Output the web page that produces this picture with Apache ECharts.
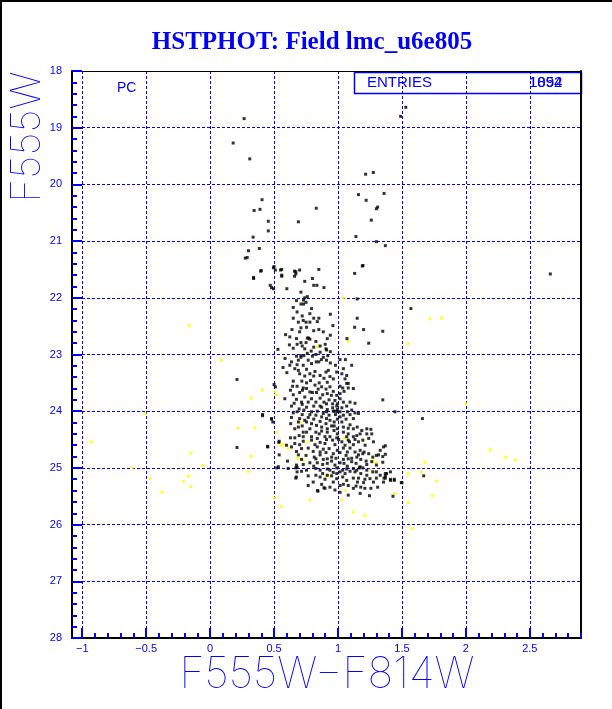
<!DOCTYPE html>
<html><head><meta charset="utf-8">
<script src="https://cdn.jsdelivr.net/npm/echarts@6/dist/echarts.min.js"></script>
<style>html,body{margin:0;padding:0;background:#fff}#c{width:612px;height:709px}</style>
</head><body><div id="c"></div>
<script>
const titleText = "HSTPHOT: Field lmc_u6e805";
const xTitle = "F555W\u2212F814W";
const yTitle = "F555W";
const xMajorTicks = [-1, -0.5, 0, 0.5, 1, 1.5, 2, 2.5];
const xRange = [-1.08, 2.9];
const yRange = [18, 28];
const entriesA = "1892";
const entriesB = "1054";

// [F555W-F814W, F555W] main photometry (black)
const blackPoints = [
[0.266,18.84],[0.18,19.27],[0.31,19.55],[1.216,19.82],[1.276,19.79],[0.406,20.27],[0.344,20.46],[0.39,20.44],[0.83,20.42],[1.16,20.18],[1.22,20.28],[1.36,20.16],[1.30,20.43],[1.31,20.40],[0.455,20.65],[0.69,20.66],[1.26,20.63],[0.455,20.82],[0.336,20.93],[1.14,20.92],[1.30,21.01],[1.37,21.08],[0.30,21.17],[0.385,21.13],[0.29,21.29],[0.40,21.52],[0.50,21.45],[0.51,21.51],[0.56,21.50],[0.56,21.60],[0.67,21.54],[0.70,21.51],[0.67,21.58],[0.85,21.50],[0.80,21.66],[1.195,21.43],[1.13,21.57],[0.34,21.64],[1.53,18.64],[1.49,18.80],[2.66,21.58],
[0.275,21.30],[0.395,21.53],[0.34,21.66],[0.495,21.47],[0.55,21.51],[0.56,21.62],[0.66,21.53],[0.66,21.62],[0.74,21.71],[0.47,21.78],[0.48,21.82],[0.495,21.84],[0.60,21.84],[0.81,21.78],[0.835,21.78],[0.89,21.82],[0.71,21.90],[1.19,21.44],
[0.76,21.98],[0.74,22.0],[0.675,22.05],[0.73,22.04],[1.15,22.02],[0.65,22.17],[0.73,22.11],[0.71,22.11],[0.68,22.25],[0.72,22.32],[0.65,22.36],[0.78,22.28],[0.78,22.43],[0.81,22.36],[0.85,22.36],[0.94,22.29],[1.15,22.36],[0.69,22.43],[0.75,22.43],[0.96,22.49],[0.71,22.53],[0.85,22.56],[0.81,22.58],[0.64,22.56],[1.20,22.56],[1.13,22.52],[1.57,22.19],[1.35,22.59],[0.59,22.65],[0.94,22.66],[0.76,22.71],[0.77,22.71],[0.78,22.73],[0.75,22.79],[0.71,22.79],[0.72,22.85],[0.62,22.83],[0.65,22.89],[0.68,22.82],[0.81,22.87],[0.86,22.85],[0.90,22.82],[0.94,22.95],[0.91,22.92],[0.79,22.94],[0.76,22.98],[0.71,23.02],[1.07,22.72],[1.24,22.80],[0.53,22.91],
[0.75,22.08],[0.793,22.19],[0.728,22.40],[0.838,22.42],[0.754,22.52],[0.885,22.60],[0.675,22.72],[0.827,22.77],[0.916,22.72],[0.74,22.90],[0.86,22.96],[0.906,22.90],[0.70,22.60],[0.623,22.69],
[0.675,23.03],[0.733,23.02],[0.827,23.0],[0.885,23.05],[0.92,23.02],[0.586,23.07],[0.69,23.10],[0.767,23.10],[0.83,23.13],[0.91,23.10],[0.623,23.19],[0.68,23.18],[0.728,23.19],[0.793,23.16],[0.85,23.13],[1.016,23.09],[1.058,23.09],[0.57,23.23],[0.662,23.25],[0.754,23.26],[0.82,23.30],[0.906,23.31],[0.924,23.28],[1.042,23.25],[1.107,23.19],[0.70,23.34],[0.78,23.34],[0.86,23.37],[0.937,23.39],[1.03,23.34],[0.65,23.47],[0.717,23.47],[0.754,23.50],[0.785,23.46],[0.853,23.50],[0.963,23.43],[1.055,23.43],[0.68,23.56],[0.728,23.59],[0.82,23.54],[0.872,23.57],[0.937,23.57],[1.016,23.56],[1.068,23.51],[1.08,23.59],[0.628,23.63],[0.722,23.63],[0.78,23.66],[0.832,23.67],[0.88,23.71],[0.916,23.69],[0.963,23.65],[0.99,23.72],[1.047,23.65],[0.584,23.78],[0.675,23.79],[0.74,23.75],[0.793,23.78],[0.86,23.77],[0.89,23.84],[0.93,23.80],[0.976,23.81],[1.016,23.78],[1.094,23.84],[1.133,23.86],[1.35,23.80],[0.636,23.91],[0.696,23.96],[0.754,23.93],[0.81,23.91],[0.872,23.93],[0.916,23.97],[0.958,23.94],[0.995,23.97],[1.068,23.91],[1.107,23.98],[0.50,23.53],[0.51,23.57],[0.21,23.44],
[0.636,23.13],[0.71,23.05],[0.80,23.03],[0.87,23.09],[0.94,23.15],[0.98,23.19],[0.60,23.32],[0.69,23.28],[0.74,23.38],[0.81,23.38],[0.89,23.42],[0.916,23.49],[0.99,23.31],[1.068,23.37],[1.08,23.51],[0.645,23.56],[0.70,23.67],[0.754,23.60],[0.80,23.67],[0.845,23.61],[0.906,23.61],[0.948,23.72],[1.016,23.69],[1.037,23.59],[0.65,23.71],[1.12,23.60],[0.657,23.86],[0.715,23.84],[0.767,23.84],[0.827,23.84],[0.91,23.87],[0.958,23.87],[0.995,23.87],[1.042,23.84],[0.86,23.91],[0.99,23.91],[0.976,24.00],[1.03,23.94],[0.72,23.88],
[0.68,24.01],[0.733,23.98],[0.793,24.01],[0.838,24.0],[0.91,24.01],[0.963,24.0],[0.995,24.01],[1.016,24.01],[1.073,24.01],[1.133,24.03],[1.16,24.04],[1.445,24.01],[0.41,24.08],[0.48,24.13],[0.49,24.19],[0.41,24.06],[0.48,24.14],
[0.65,24.03],[0.72,24.06],[0.78,24.06],[0.827,24.07],[0.885,24.04],[0.93,24.07],[0.98,24.06],[1.042,24.07],[1.094,24.06],[0.74,24.16],[0.86,24.18],[0.91,24.13],[0.97,24.19],[1.03,24.19],[0.69,24.19],[0.793,24.22],
[0.636,24.11],[0.70,24.13],[0.767,24.11],[0.81,24.14],[0.872,24.10],[0.937,24.16],[0.995,24.14],[1.016,24.10],[1.063,24.14],[1.12,24.13],[0.63,24.22],[0.69,24.28],[0.754,24.19],[0.832,24.25],[0.906,24.22],[0.95,24.26],[0.995,24.31],[1.08,24.30],[1.094,24.24],[1.15,24.28],[1.257,24.32],[1.264,24.40],[1.66,24.13],
[0.662,24.31],[0.72,24.26],[0.78,24.31],[0.872,24.28],[0.916,24.31],[0.97,24.26],[1.042,24.28],[1.12,24.31],[1.186,24.34],[0.728,24.37],[0.853,24.40],[0.995,24.40],[1.08,24.40],[1.173,24.40],[1.225,24.31],
[0.628,24.47],[0.696,24.43],[0.754,24.37],[0.827,24.37],[0.872,24.35],[0.916,24.37],[0.969,24.34],[1.042,24.37],[1.12,24.45],[1.147,24.43],[1.225,24.40],[0.537,24.55],[0.597,24.60],[0.662,24.57],[0.728,24.53],[0.793,24.51],[0.86,24.55],[0.91,24.50],[0.958,24.51],[1.005,24.50],[1.03,24.54],[1.08,24.51],[1.133,24.50],[1.16,24.54],
[0.662,24.47],[0.728,24.45],[0.793,24.45],[0.838,24.48],[0.898,24.45],[0.937,24.45],[0.99,24.47],[1.068,24.45],[1.09,24.54],[1.194,24.51],[1.24,24.48],[0.70,24.59],[0.82,24.59],[0.898,24.57],[0.976,24.59],[1.055,24.60],[1.12,24.59],[1.212,24.60],[1.277,24.54],
[0.45,24.63],[0.54,24.77],[0.636,24.63],[0.715,24.66],[0.767,24.65],[0.838,24.63],[0.885,24.67],[0.93,24.66],[0.995,24.69],[1.042,24.65],[1.094,24.65],[1.133,24.72],[1.173,24.69],[1.204,24.72],[0.69,24.77],[0.75,24.78],[0.814,24.81],[0.86,24.77],[0.916,24.84],[0.984,24.83],[1.016,24.73],[1.063,24.78],[1.107,24.83],[1.147,24.81],[1.194,24.75],[1.272,24.81],[1.317,24.77],[1.356,24.63],
[0.675,24.71],[0.806,24.71],[0.86,24.72],[0.906,24.73],[0.963,24.75],[1.073,24.72],[1.16,24.77],[1.24,24.75],[1.30,24.78],[0.827,24.84],[0.885,24.85],[0.95,24.81],[1.042,24.85],[1.08,24.84],[1.178,24.85],[1.22,24.88],[0.715,24.85],[1.33,24.69],
[0.605,24.88],[0.675,24.95],[0.78,24.91],[0.838,24.91],[0.88,24.94],[0.95,24.88],[1.016,24.91],[1.073,24.97],[1.141,24.92],[1.173,24.98],[1.264,24.89],[0.534,24.98],[0.67,25.0],[0.827,25.01],[0.86,25.04],[0.916,25.02],[0.99,25.0],[1.037,25.04],[1.12,25.01],[1.167,25.0],[1.194,25.0],[0.21,24.64],[1.37,24.61],[1.37,24.76],[1.35,24.80],[1.35,24.90],[0.45,24.62],[0.54,24.53],[0.52,25.0],[0.61,25.01],[0.68,24.99],
[0.728,24.94],[0.81,24.97],[0.916,24.92],[0.976,24.95],[1.047,24.92],[1.107,24.89],[1.225,24.94],[1.30,24.95],[0.754,25.04],[0.937,25.04],[1.068,25.02],[1.147,25.04],[1.225,25.04],[1.30,25.07],[1.38,25.10],
[0.68,25.07],[0.715,25.06],[0.88,25.10],[0.916,25.13],[0.963,25.08],[1.016,25.07],[1.055,25.10],[1.094,25.06],[1.133,25.07],[1.178,25.10],[1.225,25.13],[1.272,25.07],[1.33,25.13],[1.36,25.18],[1.41,25.22],[1.44,25.22],[1.50,25.26],[0.67,25.18],[0.86,25.16],[0.898,25.20],[0.99,25.19],[1.068,25.22],[1.12,25.18],[1.152,25.25],[1.20,25.26],[1.25,25.19],[1.30,25.18],
[0.767,25.14],[0.827,25.13],[0.95,25.14],[1.037,25.16],[1.16,25.18],[1.21,25.20],[1.277,25.25],[1.356,25.25],[0.806,25.25],[0.963,25.25],[1.042,25.29],[1.12,25.36],[1.21,25.36],[0.976,25.39],[1.173,25.45],
[0.767,25.31],[0.872,25.29],[0.937,25.34],[1.016,25.31],[1.08,25.31],[1.141,25.32],[1.178,25.34],[1.257,25.36],[1.31,25.34],[0.843,25.41],[0.898,25.36],[1.016,25.43],[1.08,25.48],[1.246,25.49],[1.41,25.07],[1.37,25.10],[1.37,25.14],[1.37,25.18],[1.41,25.20],[1.44,25.20],[1.495,25.26],[1.67,25.14],[1.43,25.50],[0.674,25.16],[0.84,25.40],[0.89,25.35],[0.99,25.10]
];

// [F555W-F814W, F555W] flagged photometry (yellow)
const yellowPoints = [
[-0.93,24.54],[-0.61,25.00],[-0.51,24.04],[-0.47,25.19],[-0.375,25.43],[-0.21,25.24],[-0.17,25.15],[-0.164,22.49],[-0.15,24.74],[-0.15,25.33],[-0.055,24.96],[0.088,23.10],[0.22,24.30],[0.30,25.06],[0.32,23.77],[0.32,24.80],[0.35,24.29],[0.41,23.63],[0.51,23.66],[0.52,23.72],[0.52,24.37],[0.505,25.53],[0.55,24.60],[0.57,24.59],[0.555,25.68],[0.61,24.66],[0.68,24.83],[0.705,24.20],[0.73,24.87],[0.76,24.54],[0.78,25.56],[0.84,22.86],[0.91,25.15],[0.92,25.13],[1.04,22.0],[1.03,25.56],[1.055,25.40],[1.05,24.48],[1.08,22.77],[1.12,25.78],[1.195,24.52],[1.21,25.84],[1.26,25.04],[1.27,24.87],[1.30,24.91],[1.445,25.45],[1.55,22.81],[1.55,25.10],[1.55,25.61],[1.58,26.07],[1.65,25.07],[1.68,24.90],[1.72,22.37],[1.74,25.49],[1.77,25.23],[1.81,22.36],[2.0,23.87],[2.19,24.68],[2.31,24.81],[2.385,24.86]
];

const BLUE = '#0000ff';
const minorX = [];
for (let v = -10; v <= 29; v++) minorX.push(+(v / 10).toFixed(1));

const chart = echarts.init(document.getElementById('c'), null, {renderer: 'canvas'});
const labelFont = {color: BLUE, fontSize: 11, fontFamily: 'Liberation Sans, Arial, sans-serif'};
chart.setOption({
  animation: false,
  backgroundColor: '#fff',
  grid: {left: 72, top: 71, width: 509, height: 567, show: false},
  xAxis: [
    {type: 'value', min: xRange[0], max: xRange[1], position: 'bottom', gridIndex: 0,
     axisLine: {show: true, onZero: false, lineStyle: {color: '#000', width: 2}},
     axisTick: {show: true, inside: true, length: 10, customValues: xMajorTicks, lineStyle: {color: BLUE, width: 2}},
     axisLabel: {show: true, customValues: xMajorTicks, margin: 5, ...labelFont,
       formatter: v => String(v).replace('-', '\u2212')},
     splitLine: {show: true, lineStyle: {color: BLUE, width: 1, type: [3, 2]}}},
    {type: 'value', min: xRange[0], max: xRange[1], position: 'bottom', gridIndex: 0,
     axisLine: {show: false},
     axisTick: {show: true, inside: true, length: 5, customValues: minorX, lineStyle: {color: BLUE, width: 2}},
     axisLabel: {show: false}, splitLine: {show: false}},
    {type: 'value', min: xRange[0], max: xRange[1], position: 'top', gridIndex: 0,
     axisLine: {show: true, onZero: false, lineStyle: {color: '#000', width: 1}},
     axisTick: {show: false}, axisLabel: {show: false}, splitLine: {show: false}}
  ],
  yAxis: [
    {type: 'value', min: yRange[0], max: yRange[1], interval: 1, inverse: true, position: 'left',
     axisLine: {show: true, onZero: false, lineStyle: {color: '#000', width: 2}},
     axisTick: {show: true, inside: true, length: 10, lineStyle: {color: BLUE, width: 2}},
     minorTick: {show: true, splitNumber: 5, length: 5, lineStyle: {color: BLUE, width: 2}},
     axisLabel: {show: true, margin: 10, ...labelFont},
     splitLine: {show: true, lineStyle: {color: BLUE, width: 1, type: [3, 2]}}},
    {type: 'value', min: yRange[0], max: yRange[1], inverse: true, position: 'right',
     axisLine: {show: true, onZero: false, lineStyle: {color: '#000', width: 2}},
     axisTick: {show: false}, axisLabel: {show: false}, splitLine: {show: false}}
  ],
  series: [
    {type: 'scatter', xAxisIndex: 0, yAxisIndex: 0, data: yellowPoints, symbol: 'rect', symbolSize: 3,
     itemStyle: {color: '#ffff00'}, silent: true},
    {type: 'scatter', xAxisIndex: 0, yAxisIndex: 0, data: blackPoints, symbol: 'rect', symbolSize: 3,
     itemStyle: {color: '#000'}, silent: true}
  ],
  graphic: [
    {type: 'rect', shape: {x: 0, y: 0, width: 2, height: 709}, style: {fill: '#000'}},
    {type: 'rect', shape: {x: 0, y: 0, width: 612, height: 2}, style: {fill: '#000'}},
    {type: 'text', x: 312, y: 43, style: {text: titleText, fill: BLUE, font: 'bold 25px "Liberation Serif", "Times New Roman", serif', textAlign: 'center', textVerticalAlign: 'middle'}},
    {type: 'text', x: 28, y: 137, rotation: Math.PI / 2, style: {text: yTitle, fill: BLUE, font: '100 41px Inter, "Liberation Sans", sans-serif', textAlign: 'center', textVerticalAlign: 'middle'}},
    {type: 'text', x: 327, y: 675, style: {text: xTitle, fill: BLUE, font: '100 43px Inter, "Liberation Sans", sans-serif', textAlign: 'center', textVerticalAlign: 'middle'}},
    {type: 'text', x: 117, y: 88, style: {text: 'PC', fill: BLUE, font: '14px "Liberation Sans", Arial, sans-serif', textAlign: 'left', textVerticalAlign: 'middle'}},
    {type: 'rect', shape: {x: 354.5, y: 72.5, width: 227, height: 21}, style: {fill: '#fff', stroke: BLUE, lineWidth: 1.5}},
    {type: 'text', x: 367, y: 83, style: {text: 'ENTRIES', fill: BLUE, font: '15px "Liberation Sans", Arial, sans-serif', textAlign: 'left', textVerticalAlign: 'middle'}},
    {type: 'text', x: 529, y: 83, style: {text: entriesB, fill: BLUE, font: '15px "Liberation Sans", Arial, sans-serif', textAlign: 'left', textVerticalAlign: 'middle'}},
    {type: 'text', x: 529, y: 83, style: {text: entriesA, fill: BLUE, font: '15px "Liberation Sans", Arial, sans-serif', textAlign: 'left', textVerticalAlign: 'middle'}}
  ]
});
</script></body></html>
